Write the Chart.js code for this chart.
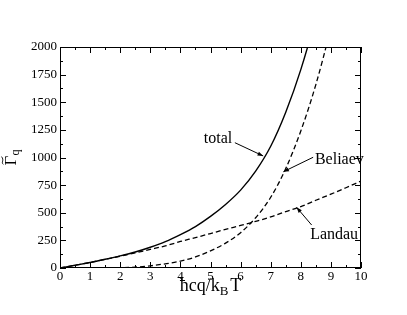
<!DOCTYPE html>
<html>
<head>
<meta charset="utf-8">
<script src="https://cdn.jsdelivr.net/npm/chart.js@4/dist/chart.umd.min.js"></script>
<style>
  html, body { margin: 0; padding: 0; background: #fff; }
  #wrap { width: 407px; height: 315px; }
</style>
</head>
<body>
<div id="wrap"><canvas id="grafica"></canvas></div>
<script>
// datos
var xs      = [0, 0.5, 1, 1.5, 2, 2.5, 3, 3.5, 4, 4.5, 5, 5.5, 6, 6.5, 7, 7.5, 8, 8.5, 9, 9.5, 10];
var total   = [0, 25, 50, 79, 110, 145, 188, 238, 302, 375, 467, 575, 705, 877, 1102, 1410, 1795, 2273, 2850, 3550, 4400];
var beliaev = [0, 0, 0.2, 1, 3, 8, 20, 38, 62, 100, 155, 225, 320, 455, 640, 900, 1240, 1660, 2180, 2800, 3600];
var landau  = [0, 25, 50, 78, 107, 137, 168, 200, 240, 275, 312, 350, 385, 422, 462, 510, 555, 613, 668, 726, 787];
var xTicks  = [0, 1, 2, 3, 4, 5, 6, 7, 8, 9, 10];
var yTicks  = [0, 250, 500, 750, 1000, 1250, 1500, 1750, 2000];

// etiquetas con flecha: texto en (tx,ty), flecha de (ax0,ay0) a (ax1,ay1)
var etiquetas = [
  { texto: 'total',   tx: 5.72, ty: 1170, align: 'right', ax0: 5.81, ay0: 1134, ax1: 6.75, ay1: 1014 },
  { texto: 'Beliaev', tx: 8.47, ty: 975,  align: 'left',  ax0: 8.41, ay0: 1002, ax1: 7.42, ay1: 871 },
  { texto: 'Landau',  tx: 8.31, ty: 299,  align: 'left',  ax0: 8.36, ay0: 389,  ax1: 7.86, ay1: 549 }
];

var serif = "'Liberation Serif', 'DejaVu Serif', serif";

function pares(ys) {
  return xs.map(function (x, i) { return { x: x, y: ys[i] }; });
}

// marco, ticks hacia adentro, titulos de ejes y etiquetas
var extras = {
  id: 'extras',
  afterDraw: function (chart) {
    var ctx = chart.ctx;
    var a = chart.chartArea;
    var sx = chart.scales.x, sy = chart.scales.y;
    ctx.save();
    ctx.strokeStyle = '#000';
    ctx.fillStyle = '#000';
    ctx.lineWidth = 1;
    ctx.strokeRect(a.left + 0.5, a.top + 0.5, a.right - a.left - 1, a.bottom - a.top - 1);

    ctx.beginPath();
    for (var v = 0; v <= 10.001; v += 0.5) {
      var px = Math.round(sx.getPixelForValue(v)) + 0.5;
      var len = (Math.abs(v - Math.round(v)) < 0.01) ? 6 : 3;
      ctx.moveTo(px, a.bottom); ctx.lineTo(px, a.bottom - len);
      ctx.moveTo(px, a.top); ctx.lineTo(px, a.top + len);
    }
    for (var w = 0; w <= 2000; w += 125) {
      var py = Math.round(sy.getPixelForValue(w)) + 0.5;
      var l2 = (w % 250 === 0) ? 6 : 3;
      ctx.moveTo(a.left, py); ctx.lineTo(a.left + l2, py);
      ctx.moveTo(a.right, py); ctx.lineTo(a.right - l2, py);
    }
    ctx.stroke();

    // titulo eje x: ħcq/k_B T
    ctx.font = '18px ' + serif;
    ctx.textBaseline = 'alphabetic';
    var p1 = 'ħcq/k', p2 = 'B', p3 = 'T';
    var w1 = ctx.measureText(p1).width;
    ctx.font = '13px ' + serif;
    var w2 = ctx.measureText(p2).width;
    ctx.font = '18px ' + serif;
    var w3 = ctx.measureText(p3).width;
    var cx = (a.left + a.right) / 2;
    var x0 = cx - (w1 + w2 + 2 + w3) / 2;
    var base = 291;
    ctx.textAlign = 'left';
    ctx.fillText(p1, x0, base);
    ctx.font = '13px ' + serif;
    ctx.fillText(p2, x0 + w1, base + 4);
    ctx.font = '18px ' + serif;
    ctx.fillText(p3, x0 + w1 + w2 + 2, base);

    // titulo eje y: Γ̃_q (rotado)
    ctx.save();
    ctx.translate(16, (a.top + a.bottom) / 2);
    ctx.rotate(-Math.PI / 2);
    ctx.font = '17px ' + serif;
    var wg = ctx.measureText('Γ').width;
    ctx.font = '12px ' + serif;
    var wq = ctx.measureText('q').width;
    var y0 = -(wg + wq) / 2;
    ctx.font = '17px ' + serif;
    ctx.fillText('Γ', y0, 0);
    // tilde sobre la Gamma
    ctx.lineWidth = 0.9;
    ctx.beginPath();
    var t0 = y0 + 1, t1 = y0 + wg - 1, ty = -13.5;
    ctx.moveTo(t0, ty + 0.8);
    ctx.bezierCurveTo(t0 + (t1 - t0) * 0.3, ty - 1.8, t0 + (t1 - t0) * 0.5, ty + 2.2, t1, ty - 1);
    ctx.stroke();
    ctx.font = '12px ' + serif;
    ctx.fillText('q', y0 + wg, 3);
    ctx.restore();

    // etiquetas con flechas
    ctx.font = '16px ' + serif;
    ctx.textBaseline = 'middle';
    etiquetas.forEach(function (e) {
      ctx.textAlign = e.align;
      ctx.fillText(e.texto, sx.getPixelForValue(e.tx), sy.getPixelForValue(e.ty));
      var x1 = sx.getPixelForValue(e.ax0), y1 = sy.getPixelForValue(e.ay0);
      var x2 = sx.getPixelForValue(e.ax1), y2 = sy.getPixelForValue(e.ay1);
      ctx.beginPath();
      ctx.moveTo(x1, y1); ctx.lineTo(x2, y2);
      ctx.stroke();
      var ang = Math.atan2(y2 - y1, x2 - x1);
      ctx.beginPath();
      ctx.moveTo(x2, y2);
      ctx.lineTo(x2 - 6 * Math.cos(ang - 0.35), y2 - 6 * Math.sin(ang - 0.35));
      ctx.lineTo(x2 - 6 * Math.cos(ang + 0.35), y2 - 6 * Math.sin(ang + 0.35));
      ctx.closePath();
      ctx.fill();
    });
    ctx.restore();
  }
};

var grafica = new Chart(document.getElementById('grafica').getContext('2d'), {
  type: 'line',
  data: {
    datasets: [
      { label: 'total', data: pares(total), borderColor: '#000', borderWidth: 1.4, pointRadius: 0, cubicInterpolationMode: 'monotone' },
      { label: 'Beliaev', data: pares(beliaev), borderColor: '#000', borderWidth: 1.3, borderDash: [5, 3], pointRadius: 0, cubicInterpolationMode: 'monotone' },
      { label: 'Landau', data: pares(landau), borderColor: '#000', borderWidth: 1.3, borderDash: [5, 3], pointRadius: 0, cubicInterpolationMode: 'monotone' }
    ]
  },
  options: {
    responsive: true,
    maintainAspectRatio: false,
    animation: false,
    layout: { padding: { left: 0, right: 46, top: 47, bottom: 0 } },
    plugins: { legend: { display: false }, tooltip: { enabled: false } },
    scales: {
      x: {
        type: 'linear', min: 0, max: 10,
        grid: { display: false, drawTicks: false },
        border: { display: false },
        afterBuildTicks: function (s) { s.ticks = xTicks.map(function (v) { return { value: v }; }); },
        afterFit: function (s) { s.height = 47; },
        ticks: { color: '#000', padding: 1, maxRotation: 0, font: { family: serif, size: 13 },
                 callback: function (v) { return String(v); } }
      },
      y: {
        min: 0, max: 2000,
        grid: { display: false, drawTicks: false },
        border: { display: false },
        afterBuildTicks: function (s) { s.ticks = yTicks.map(function (v) { return { value: v }; }); },
        afterFit: function (s) { s.width = 60; },
        ticks: { color: '#000', padding: 3, font: { family: serif, size: 13 },
                 callback: function (v) { return String(v); } }
      }
    }
  },
  plugins: [extras]
});
</script>
</body>
</html>
